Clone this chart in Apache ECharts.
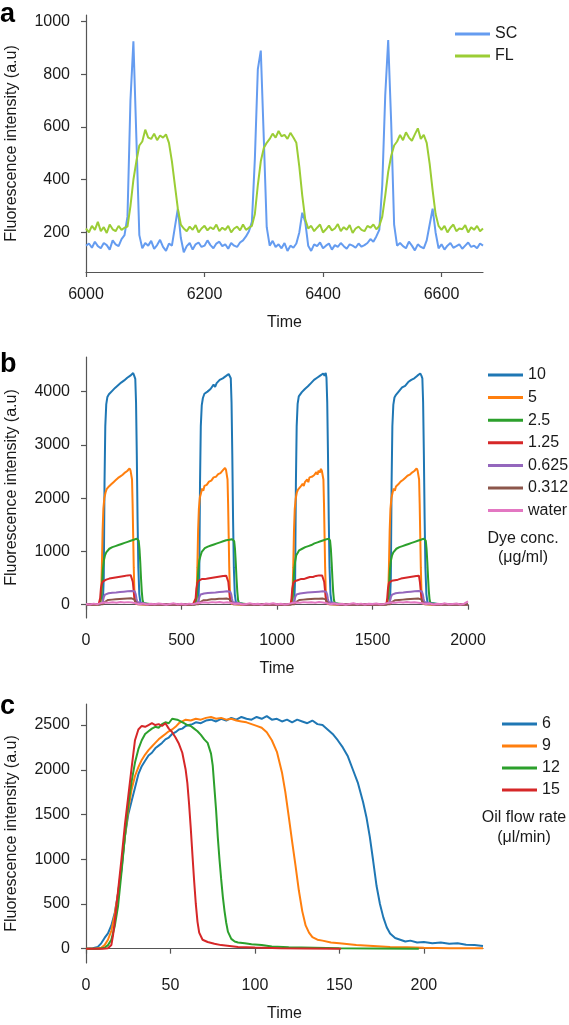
<html lang="en">
  <head>
    <meta charset="UTF-8" />
    <title>Fluorescence intensity</title>
    <style>
      html, body { margin: 0; padding: 0; background: #fff; }
    </style>
  </head>
  <body>
    <div id="main" style="width: 569px; height: 1025px"></div>

    <script src="https://cdn.jsdelivr.net/npm/echarts@6/dist/echarts.min.js"></script>
    <script>
      // ---- panel a : SC / FL signal, sampled every 5 time units from 6000 ----
      const aTimeStart = 6000
      const aTimeStep = 5
      const aSC = [
        150, 158, 142, 165, 148, 140, 160, 152, 135, 170, 155, 148, 175, 190,
        260, 700, 925, 560, 190, 140,
        160, 150, 168, 138, 152, 172, 145, 130, 158, 150,
        220, 290, 180, 125,
        148, 160, 135, 155, 162, 145, 150, 170, 152, 140, 158, 165, 148, 155, 138, 160, 150, 145, 162, 170, 185, 205,
        240, 480, 820, 890, 560, 220, 150,
        168, 145, 155, 140, 160, 130, 150, 142, 158,
        200, 275, 240, 150,
        130, 155, 148, 162, 140, 150, 158, 135, 152, 145, 160, 148, 138, 155, 150, 142, 158, 146, 152, 160, 175, 165, 185,
        210, 380, 720, 930, 620, 230, 150,
        160, 148, 140, 165, 150, 132, 155, 145, 140, 170,
        230, 290, 200, 140,
        155, 135, 150, 160, 142, 148, 155, 138, 150, 162, 145, 150, 140, 158, 150
      ]
      const aFL = [
        215, 200, 225, 210, 240, 205, 220, 198, 230, 212, 205, 225, 210, 218, 222,
        300, 400, 470, 530, 545,
        590, 560, 555, 575, 550, 568, 560, 572,
        540, 470, 380, 290, 230, 215,
        205, 222, 210, 228, 200, 215, 225, 208, 220, 212, 230, 205, 218, 210, 225, 200, 215, 222, 208, 230, 210, 218, 225,
        270, 380, 470, 520, 540,
        555, 575, 560, 585, 565, 570, 555, 578, 560,
        540, 450, 340, 250, 215,
        225, 205, 218, 230, 200, 212, 226, 208, 215, 232, 205, 220, 210, 228, 198, 215, 222, 210, 205, 225, 218, 230, 212, 225,
        260, 340, 430, 490, 530, 545,
        570, 550, 580, 560, 548, 572, 595, 555, 570,
        540, 460, 360, 270, 225,
        210, 225, 200, 218, 230, 205, 215, 212, 228, 200, 220, 210, 225, 205, 215
      ]
      const aNames = ['SC', 'FL']
      const aXTicks = [6000, 6200, 6400, 6600]
      const aYTicks = [200, 400, 600, 800, 1000]

      // ---- panel b : dye concentrations, [time, intensity] ----
      const bNames = ['10', '5', '2.5', '1.25', '0.625', '0.312', 'water']
      const b10 = [
        [0, 10], [25, 0], [50, 15], [75, 5],
        [88, 20], [93, 500], [97, 2300], [101, 3350], [106, 3760], [112, 3900], [120, 3950], [128, 3920], [136, 4010], [144, 3980],
        [152, 4070], [160, 4040], [168, 4120], [176, 4100], [184, 4170], [192, 4140], [200, 4210], [208, 4190], [216, 4260],
        [224, 4230], [232, 4300], [240, 4270], [247, 4350], [253, 4290], [258, 4240], [262, 3800], [266, 2800], [270, 1600],
        [274, 700], [279, 200], [285, 40], [292, 10],
        [330, 5], [380, 15], [430, 0], [480, 10], [560, 5],
        [588, 20], [593, 500], [597, 2300], [601, 3350], [606, 3740], [612, 3880], [620, 3960], [628, 3930], [636, 4000], [644, 3990],
        [652, 4050], [660, 4030], [668, 4130], [676, 4090], [684, 4160], [692, 4150], [700, 4220], [708, 4200], [716, 4250],
        [724, 4240], [732, 4290], [740, 4310], [747, 4330], [753, 4300], [758, 4250], [762, 3800], [766, 2800], [770, 1600],
        [774, 700], [779, 200], [785, 40], [792, 10],
        [830, 10], [880, 0], [930, 15], [980, 5], [1060, 10],
        [1090, 20], [1095, 500], [1099, 2300], [1103, 3350], [1108, 3770], [1114, 3910], [1122, 3940], [1130, 3990], [1138, 3960],
        [1146, 4050], [1154, 4020], [1162, 4100], [1170, 4080], [1178, 4160], [1186, 4140], [1194, 4220], [1202, 4190], [1210, 4260],
        [1218, 4240], [1226, 4300], [1234, 4280], [1242, 4340], [1249, 4300], [1255, 4350], [1259, 4260], [1263, 3800], [1267, 2800],
        [1271, 1600], [1275, 700], [1280, 200], [1286, 40], [1293, 10],
        [1330, 5], [1380, 15], [1430, 0], [1480, 10], [1560, 5],
        [1591, 20], [1596, 500], [1600, 2300], [1604, 3350], [1609, 3750], [1615, 3890], [1623, 3940], [1631, 3920], [1639, 4010],
        [1647, 3990], [1655, 4080], [1663, 4050], [1671, 4110], [1679, 4100], [1687, 4180], [1695, 4150], [1703, 4220], [1711, 4200],
        [1719, 4250], [1727, 4240], [1735, 4300], [1743, 4280], [1750, 4340], [1756, 4300], [1761, 4250], [1765, 3800], [1769, 2800],
        [1773, 1600], [1777, 700], [1782, 200], [1788, 40], [1795, 10],
        [1850, 10], [1900, 0], [1950, 15], [2000, 5]
      ]
      const b5 = [
        [0, 10], [30, 0], [60, 10],
        [75, 10], [79, 150], [83, 700], [87, 1400], [91, 1800], [96, 2000], [102, 2100], [108, 2170], [114, 2150], [120, 2220],
        [126, 2190], [132, 2260], [138, 2240], [144, 2300], [150, 2280], [156, 2340], [162, 2310], [168, 2380], [174, 2350],
        [180, 2410], [186, 2390], [192, 2440], [198, 2420], [204, 2480], [210, 2450], [216, 2510], [222, 2490], [228, 2560],
        [233, 2520], [238, 2540], [241, 2350], [244, 1900], [247, 1300], [250, 700], [253, 300], [257, 80], [263, 15],
        [300, 5], [350, 10], [400, 0], [450, 10], [500, 5], [560, 10],
        [575, 10], [579, 150], [583, 700], [587, 1400], [591, 1800], [596, 2010], [602, 2090], [608, 2180], [614, 2140], [620, 2230],
        [626, 2200], [632, 2250], [638, 2230], [644, 2310], [650, 2290], [656, 2330], [662, 2320], [668, 2390], [674, 2360],
        [680, 2400], [686, 2400], [692, 2450], [698, 2430], [704, 2470], [710, 2460], [716, 2520], [722, 2500], [728, 2570],
        [733, 2530], [738, 2550], [741, 2350], [744, 1900], [747, 1300], [750, 700], [753, 300], [757, 80], [763, 15],
        [800, 5], [850, 10], [900, 0], [950, 10], [1000, 5], [1060, 10],
        [1077, 10], [1081, 150], [1085, 700], [1089, 1400], [1093, 1800], [1098, 1990], [1104, 2110], [1110, 2160], [1116, 2160],
        [1122, 2210], [1128, 2200], [1134, 2270], [1140, 2230], [1146, 2300], [1152, 2290], [1158, 2350], [1164, 2300], [1170, 2390],
        [1176, 2360], [1182, 2400], [1188, 2410], [1194, 2430], [1200, 2440], [1206, 2490], [1212, 2440], [1218, 2520], [1224, 2480],
        [1230, 2550], [1235, 2510], [1240, 2540], [1243, 2350], [1246, 1900], [1249, 1300], [1252, 700], [1255, 300], [1259, 80],
        [1265, 15],
        [1300, 5], [1350, 10], [1400, 0], [1450, 10], [1500, 5], [1565, 10],
        [1578, 10], [1582, 150], [1586, 700], [1590, 1400], [1594, 1800], [1599, 2000], [1605, 2100], [1611, 2180], [1617, 2140],
        [1623, 2220], [1629, 2200], [1635, 2260], [1641, 2240], [1647, 2310], [1653, 2280], [1659, 2340], [1665, 2320], [1671, 2380],
        [1677, 2350], [1683, 2420], [1689, 2390], [1695, 2440], [1701, 2430], [1707, 2480], [1713, 2450], [1719, 2510], [1725, 2490],
        [1731, 2560], [1736, 2520], [1741, 2540], [1744, 2350], [1747, 1900], [1750, 1300], [1753, 700], [1756, 300], [1760, 80],
        [1766, 15],
        [1800, 5], [1850, 10], [1900, 0], [1950, 10], [2000, 5]
      ]
      const b25 = [
        [0, 5], [40, 10], [72, 5],
        [76, 10], [80, 150], [84, 400], [88, 650], [93, 820], [99, 920], [106, 980], [114, 1010], [122, 1050], [130, 1040],
        [138, 1080], [146, 1070], [154, 1100], [162, 1090], [170, 1120], [178, 1110], [186, 1140], [194, 1130], [202, 1160],
        [210, 1150], [218, 1180], [226, 1170], [234, 1200], [242, 1190], [250, 1220], [258, 1210], [265, 1240], [270, 1230],
        [276, 1200], [280, 1050], [284, 800], [288, 500], [292, 250], [296, 90], [301, 25], [308, 5],
        [350, 10], [420, 0], [500, 10], [570, 5],
        [576, 10], [580, 150], [584, 400], [588, 640], [593, 830], [599, 910], [606, 990], [614, 1000], [622, 1060], [630, 1030],
        [638, 1090], [646, 1060], [654, 1110], [662, 1080], [670, 1130], [678, 1100], [686, 1150], [694, 1120], [702, 1170],
        [710, 1140], [718, 1190], [726, 1160], [734, 1210], [742, 1180], [750, 1220], [758, 1200], [765, 1230], [770, 1220],
        [776, 1190], [780, 1050], [784, 800], [788, 500], [792, 250], [796, 90], [801, 25], [808, 5],
        [850, 10], [920, 0], [1000, 10], [1072, 5],
        [1078, 10], [1082, 150], [1086, 400], [1090, 660], [1095, 810], [1101, 930], [1108, 970], [1116, 1020], [1124, 1040],
        [1132, 1050], [1140, 1070], [1148, 1080], [1156, 1090], [1164, 1100], [1172, 1110], [1180, 1120], [1188, 1130], [1196, 1150],
        [1204, 1140], [1212, 1170], [1220, 1160], [1228, 1190], [1236, 1180], [1244, 1210], [1252, 1200], [1260, 1230], [1267, 1220],
        [1272, 1240], [1278, 1200], [1282, 1050], [1286, 800], [1290, 500], [1294, 250], [1298, 90], [1303, 25], [1310, 5],
        [1350, 10], [1420, 0], [1500, 10], [1573, 5],
        [1579, 10], [1583, 150], [1587, 400], [1591, 650], [1596, 820], [1602, 920], [1609, 980], [1617, 1010], [1625, 1050],
        [1633, 1040], [1641, 1080], [1649, 1070], [1657, 1100], [1665, 1090], [1673, 1120], [1681, 1110], [1689, 1140], [1697, 1130],
        [1705, 1160], [1713, 1150], [1721, 1180], [1729, 1170], [1737, 1200], [1745, 1190], [1753, 1220], [1761, 1210], [1768, 1240],
        [1773, 1230], [1779, 1200], [1783, 1050], [1787, 800], [1791, 500], [1795, 250], [1799, 90], [1804, 25], [1811, 5],
        [1850, 10], [1920, 0], [2000, 10]
      ]
      const b125 = [
        [0, 5], [40, 10], [66, 5],
        [70, 10], [74, 120], [78, 300], [83, 400], [90, 440], [98, 460], [106, 470], [114, 450], [122, 490], [130, 470],
        [138, 500], [146, 490], [154, 510], [162, 495], [170, 520], [178, 505], [186, 530], [194, 515], [202, 540], [210, 525],
        [218, 550], [226, 535], [234, 555], [240, 540], [245, 430], [249, 280], [253, 130], [258, 40], [265, 10],
        [320, 5], [400, 10], [480, 0], [560, 5],
        [570, 10], [574, 120], [578, 300], [583, 410], [590, 450], [598, 450], [606, 480], [614, 460], [622, 480], [630, 480],
        [638, 490], [646, 500], [654, 500], [662, 510], [670, 510], [678, 520], [686, 520], [694, 530], [702, 530], [710, 540],
        [718, 540], [726, 550], [734, 545], [740, 540], [745, 430], [749, 280], [753, 130], [758, 40], [765, 10],
        [820, 5], [900, 10], [980, 0], [1060, 5],
        [1072, 10], [1076, 120], [1080, 300], [1085, 400], [1092, 440], [1100, 470], [1108, 460], [1116, 470], [1124, 480],
        [1132, 490], [1140, 480], [1148, 500], [1156, 500], [1164, 500], [1172, 520], [1180, 510], [1188, 520], [1196, 520],
        [1204, 540], [1212, 520], [1220, 550], [1228, 530], [1236, 550], [1242, 540], [1247, 430], [1251, 280], [1255, 130],
        [1260, 40], [1267, 10],
        [1320, 5], [1400, 10], [1480, 0], [1562, 5],
        [1573, 10], [1577, 120], [1581, 300], [1586, 410], [1593, 440], [1601, 450], [1609, 470], [1617, 460], [1625, 490],
        [1633, 470], [1641, 500], [1649, 490], [1657, 510], [1665, 500], [1673, 520], [1681, 510], [1689, 530], [1697, 520],
        [1705, 540], [1713, 530], [1721, 550], [1729, 540], [1737, 560], [1743, 545], [1748, 430], [1752, 280], [1756, 130],
        [1761, 40], [1768, 10],
        [1820, 5], [1900, 10], [2000, 5]
      ]
      const b0625 = [
        [0, 5], [50, 10], [80, 10],
        [88, 60], [94, 150], [100, 190], [108, 200], [118, 215], [128, 205], [138, 225], [148, 215], [158, 230], [168, 220],
        [178, 240], [188, 230], [198, 245], [208, 235], [218, 250], [228, 240], [238, 255], [248, 245], [255, 250], [260, 200],
        [264, 120], [268, 50], [274, 15],
        [330, 5], [420, 10], [500, 5], [575, 10],
        [588, 60], [594, 150], [600, 190], [608, 205], [618, 210], [628, 215], [638, 220], [648, 220], [658, 225], [668, 230],
        [678, 230], [688, 235], [698, 240], [708, 240], [718, 245], [728, 245], [738, 250], [748, 250], [755, 245], [760, 200],
        [764, 120], [768, 50], [774, 15],
        [830, 5], [920, 10], [1000, 5], [1077, 10],
        [1090, 60], [1096, 150], [1102, 190], [1110, 200], [1120, 210], [1130, 215], [1140, 220], [1150, 220], [1160, 230],
        [1170, 225], [1180, 235], [1190, 235], [1200, 240], [1210, 245], [1220, 245], [1230, 250], [1240, 250], [1250, 255],
        [1257, 245], [1262, 200], [1266, 120], [1270, 50], [1276, 15],
        [1330, 5], [1420, 10], [1500, 5], [1578, 10],
        [1591, 60], [1597, 150], [1603, 190], [1611, 200], [1621, 215], [1631, 210], [1641, 225], [1651, 220], [1661, 230],
        [1671, 230], [1681, 240], [1691, 235], [1701, 245], [1711, 240], [1721, 250], [1731, 245], [1741, 255], [1751, 250],
        [1758, 250], [1763, 200], [1767, 120], [1771, 50], [1777, 15],
        [1830, 5], [1920, 10], [2000, 5]
      ]
      const b0312 = [
        [0, 5], [60, 10], [90, 10],
        [98, 50], [106, 80], [116, 90], [126, 85], [136, 95], [146, 90], [156, 100], [166, 95], [176, 105], [186, 100],
        [196, 110], [206, 105], [216, 115], [226, 110], [236, 120], [246, 110], [252, 100], [258, 60], [264, 25], [270, 10],
        [340, 5], [440, 10], [520, 5], [590, 10],
        [598, 50], [606, 80], [616, 85], [626, 90], [636, 90], [646, 95], [656, 100], [666, 100], [676, 100], [686, 105],
        [696, 110], [706, 110], [716, 110], [726, 115], [736, 115], [746, 110], [752, 100], [758, 60], [764, 25], [770, 10],
        [840, 5], [940, 10], [1020, 5], [1092, 10],
        [1100, 50], [1108, 80], [1118, 90], [1128, 90], [1138, 95], [1148, 95], [1158, 100], [1168, 100], [1178, 105],
        [1188, 105], [1198, 110], [1208, 110], [1218, 110], [1228, 115], [1238, 115], [1248, 110], [1254, 100], [1260, 60],
        [1266, 25], [1272, 10],
        [1340, 5], [1440, 10], [1520, 5], [1593, 10],
        [1601, 50], [1609, 80], [1619, 85], [1629, 95], [1639, 90], [1649, 100], [1659, 95], [1669, 105], [1679, 100],
        [1689, 110], [1699, 105], [1709, 115], [1719, 110], [1729, 120], [1739, 115], [1749, 110], [1755, 100], [1761, 60],
        [1767, 25], [1773, 10],
        [1840, 5], [1940, 10], [2000, 5]
      ]
      // water trace, sampled every 20 time units from 0
      const bWaterStep = 20
      const bWater = [
        15, 5, 20, 10, 30, 40, 35, 45, 38, 50, 42, 48, 40, 25, 10, 20, 5, 18, 8, 22,
        12, 0, 15, 25, 8, 18, 5, 20, 10, 28, 38, 45, 35, 48, 40, 50, 38, 45, 30, 12,
        22, 5, 15, 25, 8, 18, 0, 20, 12, 25, 10, 18, 5, 15, 30, 42, 36, 48, 40, 45,
        38, 50, 42, 28, 10, 22, 8, 18, 0, 15, 25, 10, 20, 5, 18, 12, 22, 8, 15, 30,
        40, 35, 48, 42, 50, 40, 46, 38, 28, 12, 20, 5, 18, 10, 25, 8, 15, 22, 5, 18, 60
      ]
      const bXTicks = [0, 500, 1000, 1500, 2000]
      const bYTicks = [0, 1000, 2000, 3000, 4000]

      // ---- panel c : oil flow rates, [time, intensity] ----
      const cNames = ['6', '9', '12', '15']
      const c6 = [
        [0, 0], [4, 5], [7, 20], [9, 60], [11, 120], [13, 170], [15, 260], [17, 400], [19, 620], [21, 880], [23, 1250],
        [25, 1500], [27, 1650], [29, 1800], [31, 1950], [33, 2040], [35, 2100], [37, 2160], [39, 2190], [41, 2240], [43, 2270],
        [45, 2300], [47, 2340], [49, 2360], [51, 2400], [53, 2420], [55, 2450], [57, 2460], [59, 2490], [61, 2500], [63, 2510],
        [65, 2530], [68, 2520], [71, 2550], [74, 2560], [77, 2540], [80, 2570], [83, 2550], [86, 2580], [89, 2560], [92, 2590],
        [95, 2570], [98, 2560], [101, 2590], [104, 2570], [107, 2600], [110, 2560], [113, 2570], [116, 2540], [119, 2560],
        [122, 2530], [125, 2560], [128, 2540], [131, 2520], [134, 2550], [137, 2510], [140, 2500], [143, 2450], [146, 2400],
        [149, 2330], [152, 2250], [155, 2150], [158, 2000], [161, 1850], [164, 1640], [166, 1470], [168, 1250], [170, 980],
        [172, 700], [174, 500], [176, 350], [178, 240], [180, 170], [183, 120], [186, 100], [189, 80], [192, 90], [196, 70],
        [200, 75], [205, 60], [210, 70], [215, 55], [220, 60], [225, 45], [230, 40], [235, 30]
      ]
      const c9 = [
        [0, 0], [5, 0], [9, 10], [11, 40], [13, 100], [15, 200], [17, 380], [19, 620], [21, 920], [23, 1250], [25, 1550],
        [27, 1780], [29, 1930], [31, 2030], [33, 2110], [35, 2170], [37, 2220], [39, 2260], [41, 2300], [43, 2340], [45, 2370],
        [47, 2400], [49, 2430], [51, 2450], [53, 2480], [55, 2520], [57, 2540], [59, 2560], [62, 2550], [65, 2570], [68, 2560],
        [71, 2580], [74, 2590], [77, 2570], [80, 2580], [83, 2560], [86, 2570], [89, 2550], [92, 2540], [95, 2530], [98, 2510],
        [101, 2490], [104, 2470], [107, 2420], [110, 2330], [113, 2200], [116, 1970], [118, 1750], [120, 1480], [122, 1200],
        [124, 930], [126, 650], [128, 420], [130, 260], [132, 180], [134, 130], [137, 100], [140, 90], [145, 70], [150, 60],
        [160, 40], [170, 30], [180, 20], [190, 15], [200, 10], [215, 5], [235, 5]
      ]
      const c12 = [
        [0, 0], [8, 0], [11, 10], [13, 40], [15, 100], [17, 250], [19, 480], [21, 850], [23, 1250], [25, 1600], [27, 1870],
        [29, 2080], [31, 2230], [33, 2330], [35, 2400], [37, 2430], [39, 2460], [41, 2480], [43, 2470], [45, 2510], [47, 2530],
        [49, 2520], [51, 2570], [52, 2590], [54, 2560], [56, 2540], [58, 2520], [60, 2500], [62, 2490], [64, 2460], [66, 2430],
        [68, 2390], [70, 2340], [72, 2300], [74, 2180], [75, 2050], [76, 1800], [77, 1550], [78, 1250], [79, 1000], [80, 780],
        [81, 580], [82, 420], [83, 290], [84, 190], [86, 110], [88, 80], [90, 70], [94, 60], [98, 50], [104, 40], [110, 25],
        [120, 15], [135, 10], [150, 5], [170, 3], [197, 0]
      ]
      const c15 = [
        [0, 0], [10, 0], [13, 5], [15, 40], [16, 150], [17, 300], [19, 650], [21, 1000], [23, 1380], [25, 1700], [27, 2020],
        [29, 2330], [31, 2450], [33, 2490], [35, 2480], [37, 2500], [39, 2520], [41, 2500], [43, 2510], [45, 2490], [47, 2520],
        [49, 2460], [51, 2420], [53, 2360], [55, 2290], [57, 2190], [59, 2000], [60, 1850], [61, 1620], [62, 1350], [63, 1050],
        [64, 760], [65, 500], [66, 300], [67, 180], [69, 100], [72, 75], [76, 55], [80, 40], [85, 30], [90, 20], [100, 12],
        [115, 5], [130, 3], [151, 0]
      ]
      const cXTicks = [0, 50, 100, 150, 200]
      const cYTicks = [0, 500, 1000, 1500, 2000, 2500]

      // ---- styling ----
      const font = "'Liberation Sans', Arial, Helvetica, sans-serif"
      const axisColor = '#555'
      const textColor = '#1a1a1a'
      const aColors = ['#659cf0', '#9bcd35']
      const bColors = ['#1f77b4', '#ff7f0e', '#2ca02c', '#d62728', '#9467bd', '#8c564b', '#e377c2']
      const cColors = ['#1f77b4', '#ff7f0e', '#2ca02c', '#d62728']

      const labelStyle = { fontSize: 16, color: textColor, fontFamily: font }

      function xAxis(gridIndex, min, max, ticks) {
        return {
          type: 'value',
          gridIndex,
          min,
          max,
          name: 'Time',
          nameLocation: 'middle',
          nameGap: 43,
          nameTextStyle: labelStyle,
          axisLine: { lineStyle: { color: axisColor, width: 1.2 } },
          axisTick: { length: 5, customValues: ticks, lineStyle: { color: axisColor, width: 1.2 } },
          axisLabel: Object.assign({ customValues: ticks, margin: 15, formatter: v => String(v) }, labelStyle),
          splitLine: { show: false }
        }
      }

      function yAxis(gridIndex, min, max, ticks) {
        return {
          type: 'value',
          gridIndex,
          min,
          max,
          name: 'Fluorescence intensity (a.u)',
          nameLocation: 'middle',
          nameGap: 66,
          nameTextStyle: labelStyle,
          axisLine: { show: true, lineStyle: { color: axisColor, width: 1.2 } },
          axisTick: { show: true, length: 5, customValues: ticks, lineStyle: { color: axisColor, width: 1.2 } },
          axisLabel: Object.assign({ customValues: ticks, margin: 16, formatter: v => String(v) }, labelStyle),
          splitLine: { show: false }
        }
      }

      function line(name, data, color, idx) {
        return {
          type: 'line',
          name,
          data,
          xAxisIndex: idx,
          yAxisIndex: idx,
          symbol: 'none',
          lineStyle: { color, width: 2 },
          itemStyle: { color },
          animation: false
        }
      }

      function legend(names, left, top, gap) {
        return {
          data: names,
          orient: 'vertical',
          left,
          top,
          icon: 'rect',
          itemWidth: 35,
          itemHeight: 3,
          itemGap: gap,
          textStyle: Object.assign({ lineHeight: 16 }, labelStyle)
        }
      }

      const series = [
        line(aNames[0], aSC.map((v, i) => [aTimeStart + i * aTimeStep, v]), aColors[0], 0),
        line(aNames[1], aFL.map((v, i) => [aTimeStart + i * aTimeStep, v]), aColors[1], 0)
      ]
      const bData = [b10, b5, b25, b125, b0625, b0312, bWater.map((v, i) => [i * bWaterStep, v])]
      bNames.forEach((n, k) => series.push(line(n, bData[k], bColors[k], 1)))
      const cData = [c6, c9, c12, c15]
      cNames.forEach((n, k) => series.push(line(n, cData[k], cColors[k], 2)))

      function note(text, x, y) {
        return {
          type: 'text',
          x,
          y,
          style: { text, fill: textColor, font: '16px ' + font, textAlign: 'center', textVerticalAlign: 'middle' }
        }
      }
      function letter(text, y) {
        return {
          type: 'text',
          x: 0,
          y,
          style: { text, fill: '#000', font: 'bold 27px ' + font, textVerticalAlign: 'top' }
        }
      }

      const option = {
        backgroundColor: '#fff',
        animation: false,
        grid: [
          { left: 86, top: 15, width: 397, height: 257, outerBoundsMode: 'none' },
          { left: 86, top: 357, width: 382, height: 261, outerBoundsMode: 'none' },
          { left: 86, top: 704, width: 397, height: 259, outerBoundsMode: 'none' }
        ],
        xAxis: [
          xAxis(0, 6000, 6670, aXTicks),
          xAxis(1, 0, 2000, bXTicks),
          xAxis(2, 0, 235, cXTicks)
        ],
        yAxis: [
          yAxis(0, 50, 1025, aYTicks),
          yAxis(1, -250, 4650, bYTicks),
          yAxis(2, -160, 2735, cYTicks)
        ],
        legend: [
          legend(aNames, 450, 21, 6),
          legend(bNames, 483, 362, 6.6),
          legend(cNames, 497, 711, 6)
        ],
        graphic: [
          letter('a', 1),
          letter('b', 351),
          letter('c', 693),
          note('Dye conc.', 523, 539),
          note('(μg/ml)', 523, 558),
          note('Oil flow rate', 524, 818),
          note('(μl/min)', 524, 838)
        ],
        series
      }

      echarts.init(document.querySelector('#main')).setOption(option)
    </script>
  </body>
</html>
